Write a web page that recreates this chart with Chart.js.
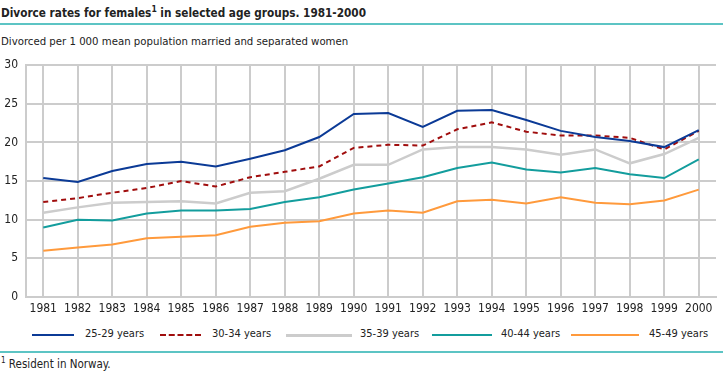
<!DOCTYPE html>
<html>
<head>
<meta charset="utf-8">
<script src="https://cdn.jsdelivr.net/npm/chart.js@4/dist/chart.umd.min.js"></script>
<style>
body { margin: 0; width: 723px; height: 372px; background: #fff; font-family: "DejaVu Sans Condensed", "Liberation Sans", sans-serif; color: #222; position: relative; overflow: hidden; }
#title { position: absolute; left: 1px; top: 4px; font-size: 11.7px; font-weight: bold; white-space: nowrap; }
#title sup { font-size: 8.5px; }
.rule { position: absolute; left: 0; width: 723px; height: 2px; background: #5cc4c4; }
#sub { position: absolute; left: 1px; top: 35px; font-size: 11.3px; white-space: nowrap; }
#wrap { position: absolute; left: 0; top: 50px; width: 723px; height: 270px; }
#legend { position: absolute; top: 326px; left: 0; width: 723px; height: 16px; font-size: 11px; }
.li { position: absolute; top: 1px; white-space: nowrap; }
.sw { position: absolute; top: 8px; height: 0; }
#foot { position: absolute; left: 1px; top: 356px; font-size: 11.5px; white-space: nowrap; }
#foot sup { font-size: 8px; }
</style>
</head>
<body>
<div id="title">Divorce rates for females<sup>1</sup> in selected age groups. 1981-2000</div>
<div class="rule" style="top:23px"></div>
<div id="sub">Divorced per 1 000 mean population married and separated women</div>
<div id="wrap"><canvas id="chart"></canvas></div>
<div id="legend"></div>
<div class="rule" style="top:351px"></div>
<div id="foot"><sup>1</sup> Resident in Norway.</div>
<script>
const years = ['1981', '1982', '1983', '1984', '1985', '1986', '1987', '1988', '1989', '1990', '1991', '1992', '1993', '1994', '1995', '1996', '1997', '1998', '1999', '2000'];
const age25_29 = [15.4, 14.9, 16.3, 17.2, 17.5, 16.9, 17.9, 19.0, 20.7, 23.7, 23.8, 22.0, 24.1, 24.2, 22.9, 21.5, 20.7, 20.2, 19.4, 21.6];
const age30_34 = [12.3, 12.8, 13.5, 14.1, 15.0, 14.3, 15.5, 16.2, 16.9, 19.3, 19.7, 19.6, 21.7, 22.6, 21.4, 20.9, 20.9, 20.6, 19.1, 21.5];
const age35_39 = [10.9, 11.6, 12.2, 12.3, 12.4, 12.1, 13.5, 13.7, 15.3, 17.1, 17.1, 19.1, 19.4, 19.4, 19.1, 18.4, 19.1, 17.3, 18.5, 20.6];
const age40_44 = [9.0, 10.0, 9.9, 10.8, 11.2, 11.2, 11.4, 12.3, 12.9, 13.9, 14.7, 15.5, 16.7, 17.4, 16.5, 16.1, 16.7, 15.9, 15.4, 17.8];
const age45_49 = [6.0, 6.4, 6.8, 7.6, 7.8, 8.0, 9.1, 9.6, 9.8, 10.8, 11.2, 10.9, 12.4, 12.6, 12.1, 12.9, 12.2, 12.0, 12.5, 13.9];
const seriesNames = ['25-29 years', '30-34 years', '35-39 years', '40-44 years', '45-49 years'];
const yTicks = [0, 5, 10, 15, 20, 25, 30];

const colors = ['#0b3a96', '#a00d0d', '#cccccc', '#139d9d', '#ff9a3c'];
const dashes = [[], [5, 4], [], [], []];
const allData = [age25_29, age30_34, age35_39, age40_44, age45_49];

const datasets = allData.map((d, i) => ({
    label: seriesNames[i],
    data: d,
    borderColor: colors[i],
    backgroundColor: colors[i],
    borderWidth: i === 2 ? 2.5 : 2,
    borderDash: dashes[i],
    pointRadius: 0,
    tension: 0,
    fill: false,
    order: i
}));

const ctx = document.getElementById('chart').getContext('2d');
const chart = new Chart(ctx, {
    type: 'line',
    data: { labels: years, datasets: datasets },
    options: {
        responsive: true,
        maintainAspectRatio: false,
        animation: false,
        layout: { padding: { top: 13, right: 7, left: 0, bottom: 0 } },
        plugins: { legend: { display: false }, tooltip: { enabled: false } },
        scales: {
            x: {
                offset: true,
                grid: { offset: false, color: '#cccccc', lineWidth: 2, drawTicks: false },
                border: { color: '#cccccc', width: 2 },
                ticks: { color: '#222', font: { family: 'DejaVu Sans Condensed', size: 12 }, padding: 5, maxRotation: 0, autoSkip: false },
                afterFit: (s) => { s.height = 23; }
            },
            y: {
                min: 0,
                max: 30,
                afterBuildTicks: (s) => { s.ticks = yTicks.map(v => ({ value: v })); },
                grid: { color: '#cccccc', lineWidth: 2, drawTicks: false },
                border: { color: '#cccccc', width: 2 },
                ticks: { color: '#222', font: { family: 'DejaVu Sans Condensed', size: 12 }, padding: 8 },
                afterFit: (s) => { s.width = 26; }
            }
        }
    }
});

// legend, drawn as html under the plot
const legendPos = [
    { sx: 32, sw: 42, tx: 85 },
    { sx: 160, sw: 41, tx: 212 },
    { sx: 286, sw: 66, tx: 360 },
    { sx: 432, sw: 60, tx: 501 },
    { sx: 571, sw: 68, tx: 649 }
];
const legend = document.getElementById('legend');
seriesNames.forEach((name, i) => {
    const p = legendPos[i];
    const sw = document.createElement('div');
    sw.className = 'sw';
    sw.style.left = p.sx + 'px';
    sw.style.width = p.sw + 'px';
    sw.style.borderTop = (i === 2 ? 3 : 2) + 'px ' + (i === 1 ? 'dashed ' : 'solid ') + colors[i];
    legend.appendChild(sw);
    const t = document.createElement('div');
    t.className = 'li';
    t.style.left = p.tx + 'px';
    t.textContent = name;
    legend.appendChild(t);
});
</script>
</body>
</html>
